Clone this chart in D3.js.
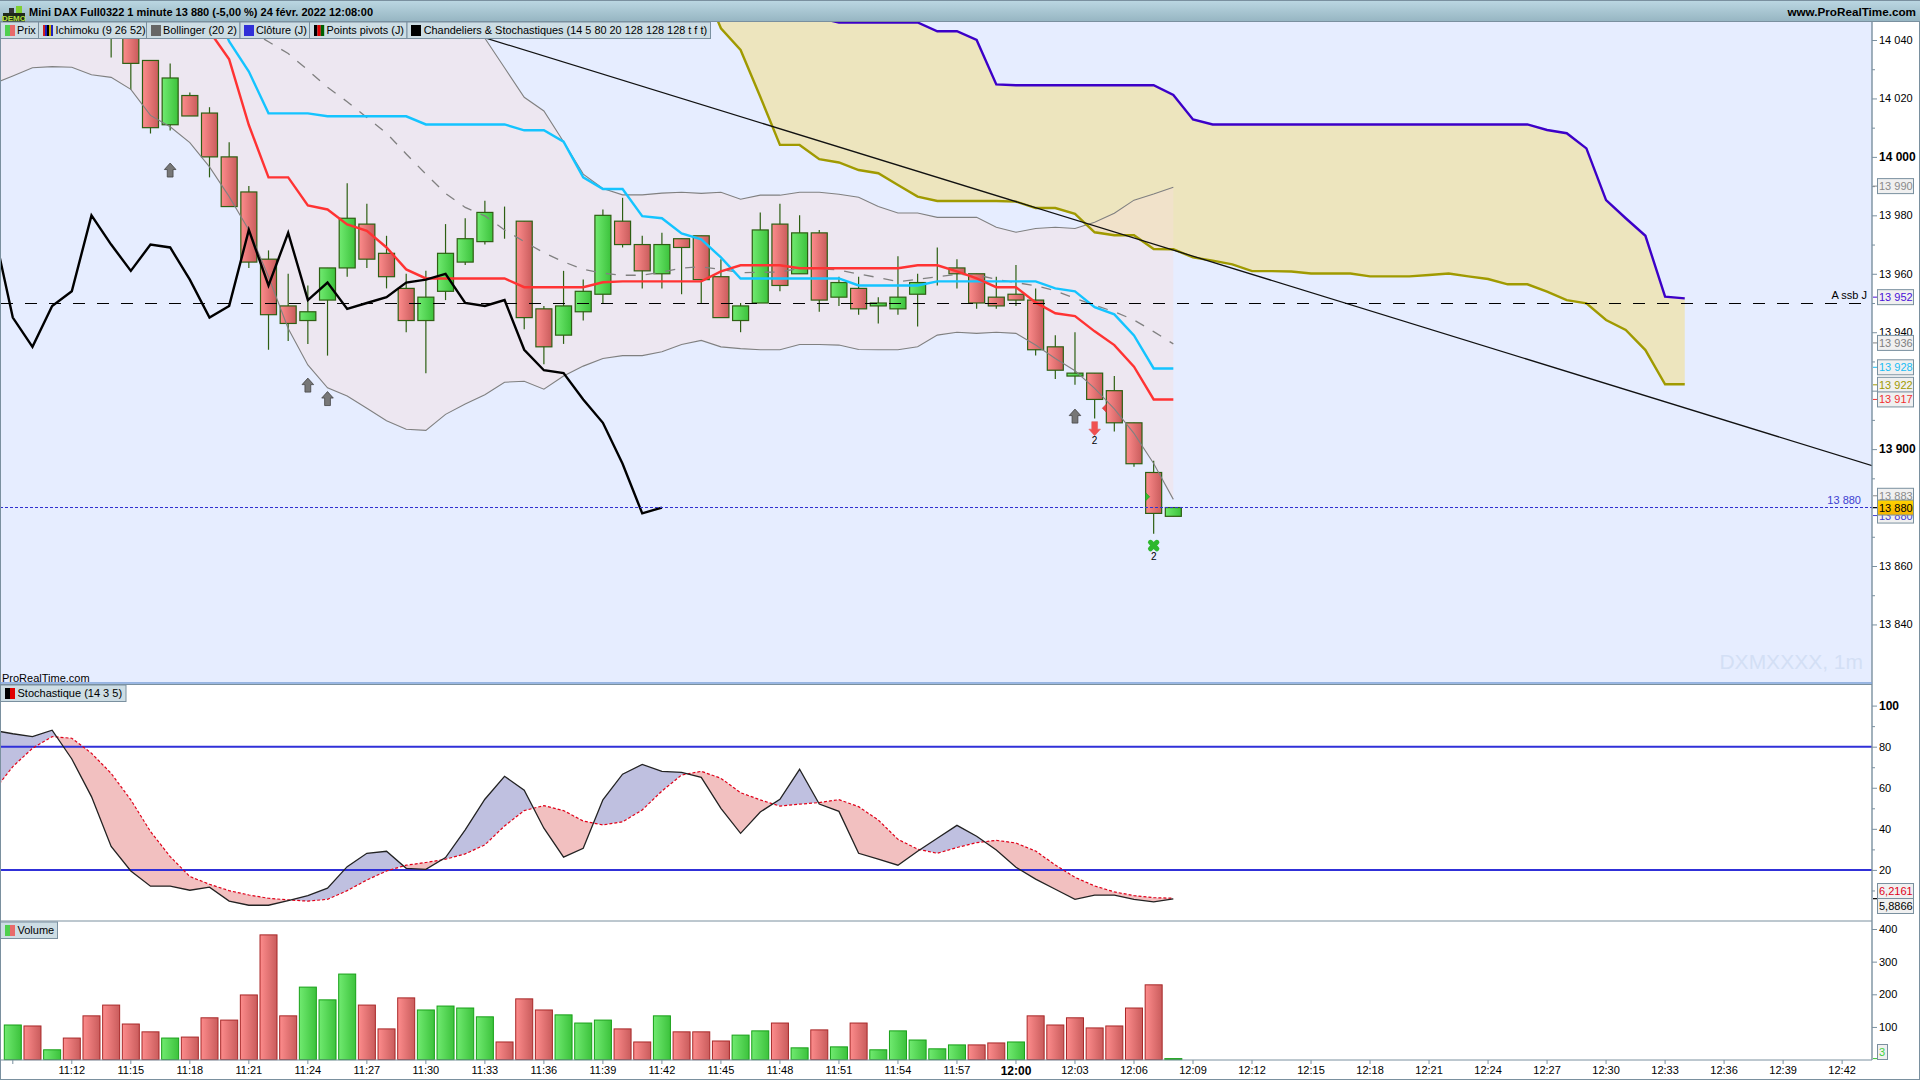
<!DOCTYPE html>
<html>
<head>
<meta charset="utf-8">
<title>Mini DAX Full0322</title>
<script src="https://cdn.jsdelivr.net/npm/d3@7"></script>
<style>
  html, body { margin: 0; padding: 0; background: #fff; overflow: hidden; }
  text { font-family: "Liberation Sans", Arial, sans-serif; font-size: 11px; fill: #000; }
</style>
</head>
<body>
<div id="my_dataviz"></div>
<script>
// bars are indexed by minute: 0 = 11:09, 59 = 12:08, the axis runs on to 12:42 (93)
var timeTickBars = d3.range(0, 94, 3);
var timeLabels = ["", "11:12", "11:15", "11:18", "11:21", "11:24", "11:27", "11:30", "11:33", "11:36", "11:39",
  "11:42", "11:45", "11:48", "11:51", "11:54", "11:57", "12:00", "12:03", "12:06", "12:09", "12:12", "12:15",
  "12:18", "12:21", "12:24", "12:27", "12:30", "12:33", "12:36", "12:39", "12:42"];

// candles, first five bars are above the visible range
var open = [null, null, null, null, null, 14050, 14046, 14033, 14011, 14021, 14015, 14000, 13988, 13965, 13949, 13944,
  13951, 13962, 13977, 13967, 13955, 13944, 13954, 13964, 13971, 13976, 13978, 13948, 13939, 13947, 13953, 13978,
  13970, 13960, 13972, 13973, 13959, 13944, 13950, 13977, 13960, 13974, 13952, 13955, 13949, 13948, 13953, 13958,
  13962, 13960, 13952, 13953, 13951, 13935, 13925, 13926, 13920, 13909, 13892, 13877];
var high = [null, null, null, null, null, 14055, 14046, 14033, 14032, 14022, 14017, 14005, 13990, 13968, 13960, 13956,
  13962, 13991, 13984, 13973, 13960, 13961, 13977, 13979, 13985, 13983, 13978, 13949, 13961, 13958, 13982, 13986,
  13973, 13974, 13972, 13973, 13965, 13950, 13981, 13984, 13980, 13975, 13959, 13959, 13952, 13966, 13960, 13969,
  13965, 13960, 13959, 13963, 13955, 13939, 13940, 13926, 13925, 13909, 13896, 13880];
var low = [null, null, null, null, null, 14034, 14023, 14008, 14009, 14014, 13993, 13983, 13962, 13934, 13937, 13936,
  13932, 13959, 13962, 13955, 13940, 13926, 13951, 13963, 13970, 13972, 13941, 13929, 13936, 13944, 13950, 13969,
  13955, 13955, 13953, 13950, 13945, 13940, 13950, 13954, 13960, 13947, 13949, 13946, 13943, 13946, 13942, 13956,
  13955, 13948, 13948, 13949, 13932, 13924, 13922, 13910.5, 13906, 13894, 13871, 13877];
var close = [null, null, null, null, null, 14045, 14032, 14010, 14027, 14014, 14000, 13983, 13964, 13946, 13943, 13947,
  13962, 13979, 13965, 13959, 13944, 13952, 13967, 13972, 13981, 13976, 13945, 13935, 13949, 13954, 13980, 13970,
  13961, 13970, 13969, 13958, 13945, 13949, 13975, 13956, 13974, 13951, 13957, 13948, 13950, 13952, 13957, 13958,
  13960, 13950, 13949, 13951, 13934, 13927, 13926, 13917, 13909, 13895, 13878, 13880];

// bollinger, from bar -1
var bbUpper = [14135, 14135, 14135, 14134, 14133, 14130, 14128, 14124, 14118, 14112, 14106, 14100, 14095, 14090, 14086,
  14082, 14078, 14075, 14072, 14070, 14068, 14066, 14062, 14058, 14052, 14040.6, 14030.5, 14020.4, 14015.7, 14005.2,
  13994.1, 13989.2, 13987, 13987, 13987.6, 13987.9, 13987.5, 13987.9, 13985.5, 13986.9, 13986.9, 13987.9, 13987.9,
  13987.2, 13986.2, 13983, 13980.8, 13980.8, 13979.3, 13979.3, 13979.3, 13975.9, 13974.2, 13975.5, 13975.9, 13975.5,
  13977.6, 13980.7, 13985.2, 13987.3, 13989.6];
var bbLower = [14025, 14027.7, 14030.5, 14030.9, 14030.7, 14028.1, 14027.2, 14023.1, 14014.2, 14010.3, 14004.9, 13996.6,
  13986.4, 13975, 13959, 13941.3, 13928.8, 13921, 13918.2, 13914, 13909.7, 13906.8, 13906.4, 13911.9, 13915.4, 13918.6,
  13922.9, 13923.2, 13920.5, 13925, 13928.4, 13931, 13932, 13932, 13933.3, 13935.8, 13937.2, 13935, 13934.4, 13934,
  13934, 13935.8, 13935.8, 13935.6, 13934.1, 13934, 13934, 13935, 13939, 13940, 13939.6, 13940, 13939.6, 13935.6, 13931,
  13926.8, 13920.8, 13913.8, 13905.4, 13895.1, 13882.8];
// moving average, from bar 11
var bbMiddle = [14047, 14043.4, 14039.4, 14035.4, 14029.7, 14023.8, 14018.9, 14013.5, 14008.1, 14001, 13994.1, 13987.5,
  13982.7, 13979.8, 13975, 13971, 13967.2, 13964.1, 13961.5, 13960.2, 13959.5, 13959.5, 13960.6, 13961.9, 13962.4,
  13961.5, 13960.4, 13960.5, 13960.6, 13961.9, 13961.7, 13961.3, 13959.9, 13958.7, 13957.3, 13958.1, 13959, 13959.8,
  13959.6, 13958.1, 13957, 13955.9, 13954.2, 13951.6, 13949.3, 13947, 13944.2, 13940.2, 13936];

// ichimoku, tenkan and kijun from bar 10
var tenkan = [14043, 14033.4, 14010.9, 13993, 13993, 13983.4, 13982, 13976.9, 13974.7, 13969, 13961.5, 13958.4, 13958.4,
  13958.4, 13958.4, 13958.4, 13955.4, 13955.4, 13955.4, 13955.4, 13957.1, 13957.4, 13957.4, 13957.4, 13957.4, 13957.4,
  13960.8, 13962.9, 13962.9, 13962.9, 13961.9, 13961.9, 13961.9, 13961.9, 13961.9, 13961.9, 13962.9, 13962.9, 13960.8,
  13958.4, 13955.4, 13955.4, 13950.2, 13946.5, 13945.5, 13940.3, 13935.6, 13928.2, 13917, 13917];
var kijun = [14055, 14039.5, 14029.2, 14014.9, 14014.9, 14014.9, 14013.9, 14013.9, 14013.9, 14013.9, 14013.9, 14011.1,
  14011.1, 14011.1, 14011.1, 14011.1, 14009.1, 14009.1, 14005.2, 13993, 13989, 13989, 13979.7, 13979, 13973.8, 13971.8,
  13965.6, 13958.4, 13958.4, 13958.4, 13958.4, 13958.4, 13958.4, 13956, 13956, 13956, 13956, 13957.4, 13957.4, 13957.4,
  13957.4, 13957.4, 13957.4, 13955, 13954, 13948.6, 13946.1, 13938.9, 13927.6, 13927.6];
// chikou, from bar -1
var chikou = [13976, 13945, 13935, 13949, 13954, 13980, 13970, 13961, 13970, 13969, 13958, 13945, 13949, 13975, 13956,
  13974, 13951, 13957, 13948, 13950, 13952, 13957, 13958, 13960, 13950, 13949, 13951, 13934, 13927, 13926, 13917, 13909,
  13895, 13878, 13880];
// cloud, from bar 35 to bar 85
var senkouA = [14060, 14044, 14036.6, 14020.6, 14004.1, 14004.1, 13999.2, 13998.1, 13995.5, 13994.4, 13990.4, 13986.4,
  13984.9, 13984.9, 13984.9, 13984.9, 13984.7, 13982.5, 13982.5, 13980.5, 13974.2, 13973.2, 13973.2, 13968.5, 13968.4,
  13965.6, 13964.5, 13963.2, 13960.9, 13960.9, 13960.8, 13960.1, 13960.1, 13960.1, 13959.1, 13959.1, 13959.1, 13959.6,
  13960.1, 13959.1, 13958.2, 13956.4, 13956.4, 13953.9, 13951, 13949.9, 13944.2, 13940.8, 13933.9, 13922.2, 13922.2];
var senkouB = [14060, 14060, 14060, 14060, 14060, 14060, 14047.5, 14046, 14046, 14046, 14046, 14046, 14043, 14043, 14040,
  14024.8, 14024.5, 14024.5, 14024.5, 14024.5, 14024.5, 14024.5, 14024.5, 14024.5, 14021.2, 14012.8, 14011.1, 14011.1,
  14011.1, 14011.1, 14011.1, 14011.1, 14011.1, 14011.1, 14011.1, 14011.1, 14011.1, 14011.1, 14011.1, 14011.1, 14011.1,
  14011.1, 14011.1, 14009.2, 14008.1, 14002.9, 13985.2, 13979, 13973, 13952.2, 13951.6];

// stochastic, from bar -1
var stochK = [88, 86.3, 84.9, 88, 74, 55.7, 31.4, 19.5, 12.1, 12.1, 10.1, 11.6, 4.8, 2.8, 2.8, 5.1, 7.5, 11.1, 21.6, 28.1,
  29.1, 20.8, 20.3, 26, 39.5, 54.4, 65.6, 58.8, 40.3, 26.2, 30.5, 54.1, 66.6, 71.4, 68, 67.5, 65.1, 50, 37.8, 48.2, 54.4,
  69, 52.1, 48.5, 28.1, 25.2, 22.3, 29.1, 35.4, 41.7, 36.4, 29.7, 21.3, 15.5, 10.6, 5.7, 7.7, 7.7, 5.7, 4.4, 5.8866];
var stochD = [58.1, 70.3, 79.2, 84.9, 84.1, 76.8, 67, 54.1, 38.7, 26.5, 16.8, 13, 9.9, 7.8, 6.2, 5.4, 4.8, 5.7, 9.9, 15.1,
  19.5, 22.3, 23.6, 25.2, 27.8, 32.2, 41.4, 48.9, 51.3, 48.9, 43.8, 41.9, 43.4, 49.2, 58.4, 66.2, 68, 64.6, 57.6, 54.1,
  51.1, 52, 52.8, 54.2, 50.8, 44.3, 34.9, 30.1, 28.1, 30.9, 33.3, 34.4, 33.1, 29.2, 22.4, 16.4, 12.2, 9.3, 7.5, 6.5, 6.2161];

var volume = [106, 103, 30, 66, 134, 167, 109, 85, 66, 69, 128, 121, 198, 382, 134, 222, 183, 262, 167, 94, 189, 152, 164,
  158, 131, 54, 186, 152, 137, 112, 121, 94, 54, 134, 85, 85, 57, 75, 88, 112, 36, 91, 39, 112, 30, 88, 60, 33, 45, 45, 51,
  54, 134, 106, 128, 97, 103, 158, 229, 3];
var volumeUp = [1, 0, 1, 0, 0, 0, 0, 0, 1, 0, 0, 0, 0, 0, 0, 1, 1, 1, 0, 0, 0, 1, 1, 1, 1, 0, 0, 0, 1, 1, 1, 0, 0, 1, 0, 0, 0,
  1, 1, 0, 1, 0, 1, 0, 1, 1, 1, 1, 1, 0, 0, 1, 0, 0, 0, 0, 0, 0, 0, 1];

// signals on the price panel
var upArrowBars = [8, 15, 16, 54];
var upArrowPrices = [13995.5, 13921.9, 13917.3, 13911.3];
var downArrowBars = [55];
var downArrowPrices = [13907];
var crossBars = [58];
var crossPrices = [13867];

var trendBars = [22, 94.55];
var trendPrices = [14044.9, 13894.3];

var priceTicks = [13840, 13860, 13880, 13900, 13920, 13940, 13960, 13980, 14000, 14020, 14040];
var priceMinorTicks = [13850, 13870, 13890, 13910, 13930, 13950, 13970, 13990, 14010, 14030];
var stochTicks = [20, 40, 60, 80, 100];
var stochMinorTicks = [10, 30, 50, 70, 90];
var volumeTicks = [100, 200, 300, 400];

var legendNames = ["Prix", "Ichimoku (9 26 52)", "Bollinger (20 2)", "Clôture (J)", "Points pivots (J)",
  "Chandeliers & Stochastiques (14 5 80 20 128 128 128 t f t)"];

var priceBoxes = [13990, 13952, 13936, 13928, 13922, 13917, 13883, 13880];
var priceBoxColors = ["#8a8a8a", "#4a10d8", "#808080", "#18bdf5", "#a09a00", "#f03030", "#8a8a8a", "#4040d0"];

var width = 1920, height = 1080;
var plotRight = 1872;
var frameColor = "#7a909f";

var svg = d3.select("#my_dataviz").append("svg")
  .attr("width", width)
  .attr("height", height)
  .style("display", "block");

var x = d3.scaleLinear().domain([0, 93]).range([12.8, 12.8 + 93 * 19.67]);
var yPrice = d3.scaleLinear().domain([13860, 14040]).range([566, 40]);
var yStoch = d3.scaleLinear().domain([0, 100]).range([911, 705.6]);
var yVolume = d3.scaleLinear().domain([0, 400]).range([1059.6, 929]);

var defs = svg.append("defs");

function gradient(id, stops, vertical) {
  var g = defs.append("linearGradient").attr("id", id)
    .attr("x1", 0).attr("y1", 0)
    .attr("x2", vertical ? 0 : 1).attr("y2", vertical ? 1 : 0);
  stops.forEach(function (c, i) {
    g.append("stop").attr("offset", i / (stops.length - 1)).attr("stop-color", c);
  });
}
gradient("redBar", ["#fd8c8c", "#c95c5c"]);
gradient("greenBar", ["#70ea70", "#3cc23c"]);
gradient("headerBg", ["#bcd8e3", "#96b5c2"], true);
gradient("yellowBox", ["#ffd400", "#f5b400"], true);

defs.append("clipPath").attr("id", "clipMain").append("rect")
  .attr("x", 0).attr("y", 22).attr("width", plotRight).attr("height", 661);
defs.append("clipPath").attr("id", "clipStoch").append("rect")
  .attr("x", 0).attr("y", 685).attr("width", plotRight).attr("height", 235);

// panel backgrounds
svg.append("rect").attr("width", width).attr("height", height).attr("fill", "#fff");
svg.append("rect").attr("x", 0).attr("y", 22).attr("width", plotRight).attr("height", 661).attr("fill", "#e6edff");

// watermark
svg.append("text").attr("x", 1863).attr("y", 669).attr("text-anchor", "end")
  .style("font-size", "21px").style("fill", "#d3dff5").text("DXMXXXX, 1m");

// price panel
var main = svg.append("g").attr("clip-path", "url(#clipMain)");

function lineFrom(values, start, yScale) {
  return d3.line()
    .x(function (d, i) { return x(i + start); })
    .y(function (d) { return yScale(d); })(values);
}

// cloud
main.append("path")
  .attr("d", d3.area()
    .x(function (d, i) { return x(i + 35); })
    .y0(function (d) { return yPrice(d); })
    .y1(function (d, i) { return yPrice(senkouB[i]); })(senkouA))
  .attr("fill", "#ede5be");

// bollinger fill
main.append("path")
  .attr("d", d3.area()
    .x(function (d, i) { return x(i - 1); })
    .y0(function (d) { return yPrice(d); })
    .y1(function (d, i) { return yPrice(bbUpper[i]); })(bbLower))
  .attr("fill", "rgba(247,222,220,0.4)");

// candles
var bars = d3.range(close.length).filter(function (i) { return close[i] !== null; });

main.selectAll("line.wick").data(bars).enter().append("line")
  .attr("class", "wick")
  .attr("x1", function (i) { return x(i); })
  .attr("x2", function (i) { return x(i); })
  .attr("y1", function (i) { return yPrice(high[i]); })
  .attr("y2", function (i) { return yPrice(low[i]); })
  .attr("stroke", "#2d5f12").attr("stroke-width", 1.2);

main.selectAll("rect.body").data(bars).enter().append("rect")
  .attr("class", "body")
  .attr("x", function (i) { return x(i) - 8; })
  .attr("width", 16)
  .attr("y", function (i) { return yPrice(Math.max(open[i], close[i])); })
  .attr("height", function (i) { return Math.abs(yPrice(open[i]) - yPrice(close[i])); })
  .attr("fill", function (i) { return close[i] >= open[i] ? "url(#greenBar)" : "url(#redBar)"; })
  .attr("stroke", "#2d5f12").attr("stroke-width", 1.2);

// bands and ichimoku lines go on top of the candles
main.append("path").attr("d", lineFrom(bbUpper, -1, yPrice)).attr("fill", "none").attr("stroke", "#808080").attr("stroke-width", 1.1);
main.append("path").attr("d", lineFrom(bbLower, -1, yPrice)).attr("fill", "none").attr("stroke", "#808080").attr("stroke-width", 1.1);
main.append("path").attr("d", lineFrom(bbMiddle, 11, yPrice)).attr("fill", "none").attr("stroke", "#808080").attr("stroke-width", 1.3).attr("stroke-dasharray", "10,10");
main.append("path").attr("d", lineFrom(senkouA, 35, yPrice)).attr("fill", "none").attr("stroke", "#a09a00").attr("stroke-width", 2.4);
main.append("path").attr("d", lineFrom(senkouB, 35, yPrice)).attr("fill", "none").attr("stroke", "#3c00c8").attr("stroke-width", 2.4);
main.append("path").attr("d", lineFrom(kijun, 10, yPrice)).attr("fill", "none").attr("stroke", "#14c4ff").attr("stroke-width", 2.4);
main.append("path").attr("d", lineFrom(tenkan, 10, yPrice)).attr("fill", "none").attr("stroke", "#ff3333").attr("stroke-width", 2.4);
main.append("path").attr("d", lineFrom(chikou, -1, yPrice)).attr("fill", "none").attr("stroke", "#000").attr("stroke-width", 2.4);

// trend line
main.append("line")
  .attr("x1", x(trendBars[0])).attr("y1", yPrice(trendPrices[0]))
  .attr("x2", x(trendBars[1])).attr("y2", yPrice(trendPrices[1]))
  .attr("stroke", "#111").attr("stroke-width", 1.3);

// levels
main.append("line")
  .attr("x1", 1.3).attr("x2", 1861)
  .attr("y1", yPrice(13950)).attr("y2", yPrice(13950))
  .attr("stroke", "#000").attr("stroke-width", 1).attr("stroke-dasharray", "12,12")
  .attr("shape-rendering", "crispEdges");
main.append("line")
  .attr("x1", 0).attr("x2", plotRight)
  .attr("y1", yPrice(13880)).attr("y2", yPrice(13880))
  .attr("stroke", "#3030d0").attr("stroke-width", 1).attr("stroke-dasharray", "3,2")
  .attr("shape-rendering", "crispEdges");

// signals
main.selectAll("path.up").data(upArrowBars).enter().append("path")
  .attr("class", "up")
  .attr("transform", function (d, i) { return "translate(" + x(d) + "," + yPrice(upArrowPrices[i]) + ")"; })
  .attr("d", "M0,-7L5.8,-0.5L2.9,-0.5L2.9,7L-2.9,7L-2.9,-0.5L-5.8,-0.5Z")
  .attr("fill", "#777").attr("stroke", "#444").attr("stroke-width", 0.8);
main.selectAll("path.down").data(downArrowBars).enter().append("path")
  .attr("class", "down")
  .attr("transform", function (d, i) { return "translate(" + x(d) + "," + yPrice(downArrowPrices[i]) + ")"; })
  .attr("d", "M0,7L5.8,0.5L2.9,0.5L2.9,-7L-2.9,-7L-2.9,0.5L-5.8,0.5Z")
  .attr("fill", "#f05050").attr("stroke", "#e06060").attr("stroke-width", 0.6);
main.selectAll("text.down").data(downArrowBars).enter().append("text")
  .attr("class", "down")
  .attr("x", function (d) { return x(d); })
  .attr("y", function (d, i) { return yPrice(downArrowPrices[i]) + 15; })
  .attr("text-anchor", "middle").style("font-size", "10px").text("2");
crossBars.forEach(function (d, i) {
  var g = main.append("g").attr("transform", "translate(" + x(d) + "," + yPrice(crossPrices[i]) + ")");
  g.append("path").attr("d", "M-3.2,-3.2L3.2,3.2M3.2,-3.2L-3.2,3.2")
    .attr("stroke", "#2eb82e").attr("stroke-width", 5).attr("stroke-linecap", "round");
  g.append("text").attr("y", 14).attr("text-anchor", "middle").style("font-size", "10px").text("2");
});
// little pivot triangles beside the candles
main.append("path")
  .attr("transform", "translate(" + (x(56) - 8) + "," + yPrice(13914) + ")")
  .attr("d", "M-4,0L0,-4L0,4Z").attr("fill", "#ee4040").attr("stroke", "#c03030").attr("stroke-width", 0.6);
main.append("path")
  .attr("transform", "translate(" + (x(58) - 8) + "," + yPrice(13883.7) + ")")
  .attr("d", "M4,0L0,-4L0,4Z").attr("fill", "#30c030").attr("stroke", "#209020").attr("stroke-width", 0.6);

// labels inside the plot
svg.append("text").attr("x", 1867).attr("y", 299).attr("text-anchor", "end").text("A ssb J");
svg.append("text").attr("x", 1861).attr("y", 504).attr("text-anchor", "end").style("fill", "#4040d0").text("13 880");
svg.append("text").attr("x", 2).attr("y", 682).text("ProRealTime.com");

// stochastic panel
var stoch = svg.append("g").attr("clip-path", "url(#clipStoch)");

var lineK = d3.line().x(function (d, i) { return x(i - 1); }).y(function (d) { return yStoch(d); });
var areaBetween = d3.area()
  .x(function (d, i) { return x(i - 1); })
  .y0(function (d) { return yStoch(d); })
  .y1(function (d, i) { return yStoch(stochD[i]); })(stochK);

// the two halves of the fill are cut along the %D line
defs.append("clipPath").attr("id", "aboveD").append("path")
  .attr("d", d3.area().x(function (d, i) { return x(i - 1); }).y0(685).y1(function (d) { return yStoch(d); })(stochD));
defs.append("clipPath").attr("id", "belowD").append("path")
  .attr("d", d3.area().x(function (d, i) { return x(i - 1); }).y0(920).y1(function (d) { return yStoch(d); })(stochD));

stoch.append("g").attr("clip-path", "url(#aboveD)").append("path").attr("d", areaBetween).attr("fill", "#bfc0e0");
stoch.append("g").attr("clip-path", "url(#belowD)").append("path").attr("d", areaBetween).attr("fill", "#f2c0c0");

[80, 20].forEach(function (level) {
  stoch.append("line").attr("x1", 0).attr("x2", plotRight)
    .attr("y1", yStoch(level)).attr("y2", yStoch(level))
    .attr("stroke", "#3030d8").attr("stroke-width", 2);
});
stoch.append("path").attr("d", lineK(stochD)).attr("fill", "none")
  .attr("stroke", "#e00018").attr("stroke-width", 1.2).attr("stroke-dasharray", "3,2");
stoch.append("path").attr("d", lineK(stochK)).attr("fill", "none")
  .attr("stroke", "#222").attr("stroke-width", 1.3);

// volume panel
svg.selectAll("rect.vol").data(volume).enter().append("rect")
  .attr("class", "vol")
  .attr("x", function (d, i) { return x(i) - 8.5; })
  .attr("width", 17)
  .attr("y", function (d) { return yVolume(d); })
  .attr("height", function (d) { return yVolume(0) - yVolume(d); })
  .attr("fill", function (d, i) { return volumeUp[i] ? "url(#greenBar)" : "url(#redBar)"; })
  .attr("stroke", function (d, i) { return volumeUp[i] ? "#18a018" : "#a82828"; })
  .attr("stroke-width", 1);

// axes
function styleAxis(g) {
  g.select(".domain").remove();
  g.selectAll(".tick line").attr("stroke", frameColor);
  g.selectAll(".tick text").style("font-family", '"Liberation Sans", Arial, sans-serif').style("font-size", "11px").style("fill", "#000");
}
function spaced(d) { return String(d).slice(0, 2) + " " + String(d).slice(2); }

var priceAxis = svg.append("g").attr("transform", "translate(" + plotRight + ",0)")
  .call(d3.axisRight(yPrice).tickValues(priceTicks).tickSize(5).tickPadding(2).tickFormat(spaced))
  .call(styleAxis);
priceAxis.selectAll(".tick text")
  .style("font-weight", function (d) { return d % 100 === 0 ? "bold" : "normal"; })
  .style("font-size", function (d) { return d % 100 === 0 ? "12px" : "11px"; });
svg.append("g").attr("transform", "translate(" + plotRight + ",0)")
  .call(d3.axisRight(yPrice).tickValues(priceMinorTicks).tickSize(3).tickFormat(""))
  .call(styleAxis);

var stochAxis = svg.append("g").attr("transform", "translate(" + plotRight + ",0)")
  .call(d3.axisRight(yStoch).tickValues(stochTicks).tickSize(5).tickPadding(2))
  .call(styleAxis);
stochAxis.selectAll(".tick text")
  .style("font-weight", function (d) { return d === 100 ? "bold" : "normal"; })
  .style("font-size", function (d) { return d === 100 ? "12px" : "11px"; });
svg.append("g").attr("transform", "translate(" + plotRight + ",0)")
  .call(d3.axisRight(yStoch).tickValues(stochMinorTicks).tickSize(3).tickFormat(""))
  .call(styleAxis);

svg.append("g").attr("transform", "translate(" + plotRight + ",0)")
  .call(d3.axisRight(yVolume).tickValues(volumeTicks).tickSize(5).tickPadding(2))
  .call(styleAxis);

var timeAxis = svg.append("g").attr("transform", "translate(0,1060)")
  .call(d3.axisBottom(x).tickValues(timeTickBars).tickSize(4).tickPadding(2).offset(0)
    .tickFormat(function (d, i) { return timeLabels[i]; }))
  .call(styleAxis);
timeAxis.selectAll(".tick text")
  .style("font-weight", function (d, i) { return timeLabels[i] === "12:00" ? "bold" : "normal"; })
  .style("font-size", function (d, i) { return timeLabels[i] === "12:00" ? "12px" : "11px"; });

// frame lines
function frameLine(x1, y1, x2, y2, color, w) {
  svg.append("line").attr("x1", x1).attr("y1", y1).attr("x2", x2).attr("y2", y2)
    .attr("stroke", color || frameColor).attr("stroke-width", w || 1);
}
frameLine(plotRight, 22, plotRight, 1060, frameColor, 1.4);
frameLine(0.5, 22, 0.5, 1079);
frameLine(1919.5, 0, 1919.5, 1079);
frameLine(0, 683, plotRight, 683, "#7ba0d8", 1.4);
frameLine(0, 684.5, plotRight, 684.5, frameColor, 1);
frameLine(0, 921, plotRight, 921);
frameLine(0, 1060, plotRight, 1060);
frameLine(0, 1079.5, 1920, 1079.5);

// value boxes on the axis, pushed apart when they would collide
function valueBox(y, label, color, boxWidth, fill, tickColor) {
  if (tickColor) frameLine(plotRight + 1, y, plotRight + 5, y, tickColor, 1);
  svg.append("rect").attr("x", 1877.5).attr("y", y - 7.5).attr("width", boxWidth || 36).attr("height", 15)
    .attr("fill", fill || "#f0f0f0").attr("stroke", frameColor).attr("stroke-width", 1);
  svg.append("text").attr("x", 1879).attr("y", y + 4).style("fill", color).text(label);
}
var boxShift = { 13936: -1, 13883: -3, 13880: 8 };
priceBoxes.forEach(function (d, i) {
  var shift = boxShift[d] || 0;
  valueBox(yPrice(d) + shift, spaced(d), priceBoxColors[i], 36, null, priceBoxColors[i]);
});
valueBox(yPrice(13880), "13 880", "#000", 36, "url(#yellowBox)", "#000");

valueBox(891, "6,2161", "#e00018", 36);
valueBox(906, "5,8866", "#000", 36);
frameLine(plotRight + 1, yStoch(6), plotRight + 5, yStoch(6), "#000", 1.2);
valueBox(1052, "3", "#40d040", 10);
frameLine(plotRight + 1, yVolume(3), plotRight + 5, yVolume(3), "#30c030", 1);

// header
svg.append("rect").attr("x", 0).attr("y", 0).attr("width", width).attr("height", 21.5).attr("fill", "url(#headerBg)");
frameLine(0, 0.5, 1920, 0.5);
frameLine(0, 21.5, 1920, 21.5);
svg.append("text").attr("x", 29).attr("y", 16).style("font-size", "11.5px").style("font-weight", "bold")
  .attr("textLength", 344).attr("lengthAdjust", "spacingAndGlyphs")
  .text("Mini DAX Full0322 1 minute 13 880 (-5,00 %) 24 févr. 2022 12:08:00");
svg.append("text").attr("x", 1916).attr("y", 16).attr("text-anchor", "end")
  .style("font-size", "11.7px").style("font-weight", "bold").text("www.ProRealTime.com");

// demo logo
var logo = svg.append("g");
logo.append("rect").attr("x", 3).attr("y", 13).attr("width", 22).attr("height", 9).attr("fill", "#1f2a1a");
logo.append("rect").attr("x", 9).attr("y", 8).attr("width", 5).attr("height", 5).attr("fill", "#333");
logo.append("rect").attr("x", 16).attr("y", 6).attr("width", 6).attr("height", 7).attr("fill", "#7fd030");
logo.append("text").attr("x", 14).attr("y", 21).attr("text-anchor", "middle")
  .style("font-size", "8px").style("font-weight", "bold").style("fill", "#b4e040").text("DEMO");

// legend chips
var legendEdges = [0, 38, 146, 239.5, 309, 406.5, 710];
var legendTextX = [17, 55.5, 163, 256, 326.5, 423.7];
var chipFill = "#cddde4";
legendNames.forEach(function (name, i) {
  svg.append("rect").attr("x", legendEdges[i] + 0.5).attr("y", 22).attr("width", legendEdges[i + 1] - legendEdges[i]).attr("height", 16.5)
    .attr("fill", chipFill).attr("stroke", frameColor);
  svg.append("text").attr("x", legendTextX[i]).attr("y", 34).style("font-size", "10.9px").text(name);
});
function chipIcon(px, py, colors, w) {
  colors.forEach(function (c, i) {
    svg.append("rect").attr("x", px + i * w).attr("y", py).attr("width", w).attr("height", 11).attr("fill", c);
  });
}
chipIcon(5, 25, ["#4fd04f", "#e86a6a"], 5);
chipIcon(43, 25, ["#d02020", "#2020c0", "#000", "#d0b000", "#2020c0"], 2);
chipIcon(151, 25, ["#666"], 10);
chipIcon(244, 25, ["#3030d8"], 10);
chipIcon(314, 25, ["#000", "#e00000", "#006000"], 3.4);
chipIcon(411, 25, ["#000"], 10);

function panelChip(yTop, w, h, name, colors) {
  svg.append("rect").attr("x", 0.5).attr("y", yTop).attr("width", w).attr("height", h)
    .attr("fill", chipFill).attr("stroke", frameColor);
  svg.append("text").attr("x", 17.5).attr("y", yTop + 11.5).text(name);
  chipIcon(5, yTop + 3, colors, 5);
}
panelChip(685, 125.5, 16.5, "Stochastique (14 3 5)", ["#000", "#e00000"]);
panelChip(922, 57, 16.5, "Volume", ["#4fd04f", "#e86a6a"]);
</script>
</body>
</html>
